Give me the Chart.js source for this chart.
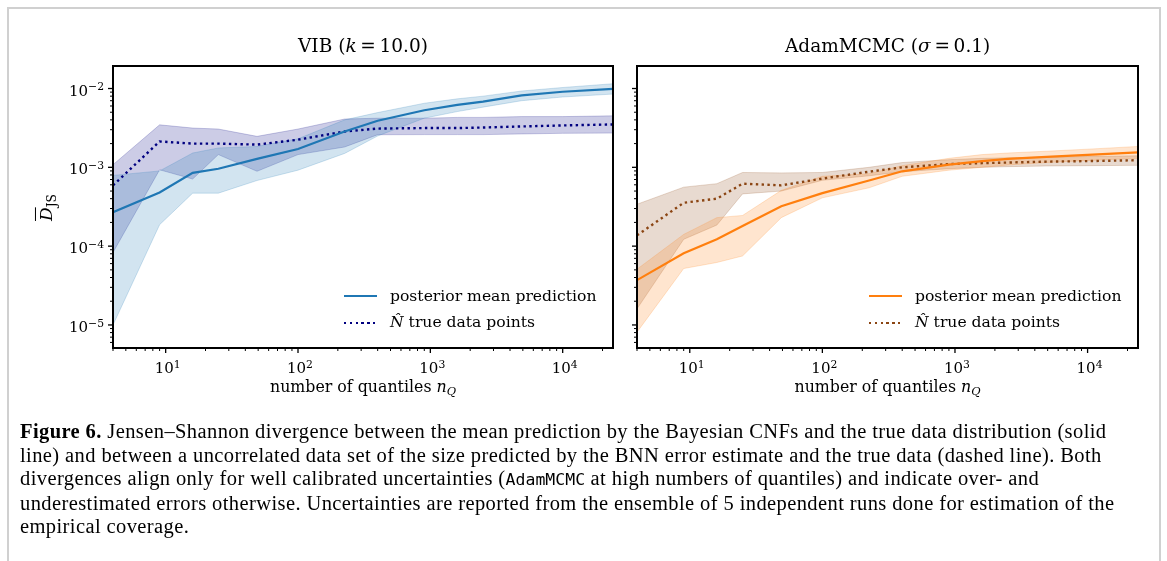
<!DOCTYPE html>
<html>
<head>
<meta charset="utf-8">
<script src="https://cdn.jsdelivr.net/npm/chart.js@4.4.1/dist/chart.umd.min.js"></script>
<style>
  html, body { margin:0; padding:0; background:#fff; }
  #page { position:relative; width:1167px; height:561px; overflow:hidden; background:#fff; }
  #frame { position:absolute; left:7px; top:7px; width:1154px; height:600px; border:2px solid #d0d0d0; box-sizing:border-box; }
  canvas { position:absolute; left:0; top:0; }
  .t { position:absolute; font-family:"DejaVu Serif", serif; color:#000; white-space:nowrap; line-height:1; }
  .sup { font-size:0.72em; position:relative; top:-0.5em; }
  .sub { font-size:0.72em; position:relative; top:0.3em; }
  .caption { position:absolute; left:20px; top:420px; font-family:"Liberation Serif","Times New Roman",serif; font-size:20.5px; letter-spacing:0.4px; line-height:23.5px; color:#000; white-space:nowrap; }
  .caption code { font-family:"DejaVu Sans Mono","Liberation Mono",monospace; font-size:16.5px; letter-spacing:0; }
  .legline { position:absolute; height:2px; }
</style>
</head>
<body>
<div id="page">
  <div id="frame"></div>
  <canvas id="c1" width="1167" height="561"></canvas>
  <canvas id="c2" width="1167" height="561"></canvas>
  <div class="caption">
    <div><b>Figure 6.</b> Jensen–Shannon divergence between the mean prediction by the Bayesian CNFs and the true data distribution (solid</div>
    <div>line) and between a uncorrelated data set of the size predicted by the BNN error estimate and the true data (dashed line). Both</div>
    <div>divergences align only for well calibrated uncertainties (<code>AdamMCMC</code> at high numbers of quantiles) and indicate over- and</div>
    <div>underestimated errors otherwise. Uncertainties are reported from the ensemble of 5 independent runs done for estimation of the</div>
    <div>empirical coverage.</div>
  </div>
</div>
<script>
// ---- data ----
const nQ = [4, 9, 16, 25, 49, 100, 225, 400, 900, 1600, 2500, 4900, 10000, 24000];

const vibMean   = [2.7e-4, 4.8e-4, 8.5e-4, 9.6e-4, 1.28e-3, 1.71e-3, 2.85e-3, 3.9e-3, 5.3e-3, 6.2e-3, 6.8e-3, 8.2e-3, 9.1e-3, 9.9e-3];
const vibMeanHi = [7.9e-4, 9.0e-4, 1.52e-3, 1.76e-3, 1.84e-3, 2.3e-3, 4.0e-3, 4.95e-3, 6.5e-3, 7.4e-3, 8.0e-3, 9.3e-3, 1.03e-2, 1.15e-2];
const vibMeanLo = [1.0e-5, 1.87e-4, 4.7e-4, 4.7e-4, 6.8e-4, 9.2e-4, 1.5e-3, 2.5e-3, 4.2e-3, 5.1e-3, 5.8e-3, 7.0e-3, 7.8e-3, 8.5e-3];

const vibTrue   = [5.9e-4, 2.13e-3, 2.0e-3, 2.0e-3, 1.94e-3, 2.24e-3, 2.85e-3, 3.1e-3, 3.15e-3, 3.15e-3, 3.2e-3, 3.3e-3, 3.4e-3, 3.5e-3];
const vibTrueHi = [1.08e-3, 3.46e-3, 3.15e-3, 3.06e-3, 2.47e-3, 3.06e-3, 4.1e-3, 4.2e-3, 4.2e-3, 4.3e-3, 4.3e-3, 4.4e-3, 4.4e-3, 4.5e-3];
const vibTrueLo = [8.3e-5, 9.3e-4, 7.1e-4, 1.45e-3, 8.9e-4, 1.45e-3, 1.81e-3, 2.59e-3, 2.6e-3, 2.6e-3, 2.6e-3, 2.65e-3, 2.7e-3, 2.72e-3];

const adamMean   = [3.7e-5, 8.1e-5, 1.22e-4, 1.8e-4, 3.2e-4, 4.7e-4, 6.8e-4, 8.9e-4, 1.08e-3, 1.2e-3, 1.28e-3, 1.36e-3, 1.44e-3, 1.55e-3];
const adamMeanHi = [5.1e-5, 1.41e-4, 2.3e-4, 2.45e-4, 5.1e-4, 7.7e-4, 8.3e-4, 1.05e-3, 1.3e-3, 1.45e-3, 1.52e-3, 1.6e-3, 1.7e-3, 1.84e-3];
const adamMeanLo = [8.1e-6, 5.2e-5, 6.2e-5, 7.5e-5, 2.3e-4, 4.1e-4, 5.5e-4, 7.7e-4, 9.2e-4, 1.0e-3, 1.07e-3, 1.15e-3, 1.22e-3, 1.3e-3];

const adamTrue   = [1.37e-4, 3.55e-4, 4.0e-4, 6.2e-4, 5.9e-4, 7.2e-4, 8.8e-4, 1.0e-3, 1.1e-3, 1.13e-3, 1.15e-3, 1.18e-3, 1.2e-3, 1.23e-3];
const adamTrueHi = [3.4e-4, 5.6e-4, 6.2e-4, 8.6e-4, 8.5e-4, 8.6e-4, 1.0e-3, 1.15e-3, 1.25e-3, 1.3e-3, 1.32e-3, 1.35e-3, 1.37e-3, 1.4e-3];
const adamTrueLo = [1.6e-5, 1.22e-4, 1.85e-4, 4.6e-4, 5.0e-4, 6.85e-4, 7.8e-4, 8.8e-4, 9.6e-4, 1.0e-3, 1.02e-3, 1.04e-3, 1.05e-3, 1.06e-3];

const xTickVals = [10, 100, 1000, 10000];
const xTickExp  = ['1', '2', '3', '4'];
const yTickVals = [1e-5, 1e-4, 1e-3, 1e-2];
const yTickExp  = ['\u22125', '\u22124', '\u22123', '\u22122'];
const xMin = 4, xMax = 24000, yMin = 5.1e-6, yMax = 1.93e-2;

const titles = ['VIB (<i>k</i>\u2009=\u200910.0)', 'AdamMCMC (<i>\u03c3</i>\u2009=\u20090.1)'];
const legendLabels = ['posterior mean prediction', '<i>N\u0302</i> true data points'];

// ---- helpers ----
const pts = (xs, ys) => xs.map((x, i) => ({x: x, y: ys[i]}));
const page = document.getElementById('page');
function addText(html, left, top, style) {
  const d = document.createElement('div');
  d.className = 't';
  d.innerHTML = html;
  d.style.left = left + 'px';
  d.style.top = top + 'px';
  if (style) Object.assign(d.style, style);
  page.appendChild(d);
  return d;
}

const axesPlugin = {
  id: 'axesPlugin',
  afterDraw(chart) {
    const ctx = chart.ctx, a = chart.chartArea;
    const xs = chart.scales.x, ys = chart.scales.y;
    ctx.save();
    ctx.strokeStyle = '#000';
    function ticksFor(scale, min, max, isX) {
      const d0 = Math.floor(Math.log10(min)), d1 = Math.ceil(Math.log10(max));
      for (let d = d0; d <= d1; d++) {
        for (let k = 1; k <= 9; k++) {
          const v = k * Math.pow(10, d);
          if (v < min * 0.999 || v > max * 1.001) continue;
          const p = scale.getPixelForValue(v);
          const major = (k === 1);
          const len = major ? 5 : 3;
          ctx.lineWidth = major ? 1.3 : 1;
          ctx.beginPath();
          if (isX) { ctx.moveTo(p, a.bottom); ctx.lineTo(p, a.bottom + len); }
          else { ctx.moveTo(a.left, p); ctx.lineTo(a.left - len, p); }
          ctx.stroke();
        }
      }
    }
    ticksFor(xs, xMin, xMax, true);
    ticksFor(ys, yMin, yMax, false);
    ctx.lineWidth = 2;
    ctx.strokeRect(a.left, a.top, a.right - a.left, a.bottom - a.top);
    ctx.restore();
  }
};

function makeChart(id, pad, mean, meanHi, meanLo, tru, truHi, truLo, cMean, cMeanBand, cTrue, cTrueBand) {
  const band = (data, fill, col) => ({data: data, fill: fill, backgroundColor: col, borderColor: col, borderWidth: 1, pointRadius: 0, order: 2, tension: 0});
  return new Chart(document.getElementById(id), {
    type: 'line',
    data: {
      datasets: [
        band(pts(nQ, meanHi), '+1', cMeanBand),
        band(pts(nQ, meanLo), false, cMeanBand),
        band(pts(nQ, truHi), '+1', cTrueBand),
        band(pts(nQ, truLo), false, cTrueBand),
        {data: pts(nQ, mean), borderColor: cMean, borderWidth: 2.2, pointRadius: 0, fill: false, order: 0, tension: 0},
        {data: pts(nQ, tru), borderColor: cTrue, borderWidth: 2.4, borderDash: [2.4, 3.4], borderCapStyle: 'butt', pointRadius: 0, fill: false, order: 1, tension: 0}
      ]
    },
    options: {
      responsive: false, animation: false, devicePixelRatio: 1,
      layout: {padding: pad},
      plugins: {legend: {display: false}, tooltip: {enabled: false}, title: {display: false}},
      events: [],
      scales: {
        x: {type: 'logarithmic', min: xMin, max: xMax, display: false},
        y: {type: 'logarithmic', min: yMin, max: yMax, display: false}
      }
    },
    plugins: [axesPlugin]
  });
}

const ch1 = makeChart('c1', {left: 113, top: 66, right: 1167 - 613, bottom: 561 - 348},
  vibMean, vibMeanHi, vibMeanLo, vibTrue, vibTrueHi, vibTrueLo,
  '#1f77b4', 'rgba(31,119,180,0.2)', '#000080', 'rgba(0,0,128,0.2)');
const ch2 = makeChart('c2', {left: 637, top: 66, right: 1167 - 1138, bottom: 561 - 348},
  adamMean, adamMeanHi, adamMeanLo, adamTrue, adamTrueHi, adamTrueLo,
  '#ff7f0e', 'rgba(255,127,14,0.2)', '#8b4513', 'rgba(139,69,19,0.2)');

function decorate(chart, idx, showY, cMean, cTrue) {
  const a = chart.chartArea, xs = chart.scales.x, ys = chart.scales.y;
  const cx = (a.left + a.right) / 2;
  const t = addText(titles[idx], 0, 37, {fontSize: '18.5px'});
  t.style.left = (cx - t.offsetWidth / 2) + 'px';
  xTickVals.forEach((v, i) => {
    const d = addText('10<span class="sup">' + xTickExp[i] + '</span>', 0, a.bottom + 13, {fontSize: '15px'});
    d.style.left = (xs.getPixelForValue(v) - d.offsetWidth / 2 + 2) + 'px';
  });
  if (showY) {
    yTickVals.forEach((v, i) => {
      const d = addText('10<span class="sup">' + yTickExp[i] + '</span>', 0, 0, {fontSize: '15px'});
      d.style.left = (a.left - 9 - d.offsetWidth) + 'px';
      d.style.top = (ys.getPixelForValue(v) - 5) + 'px';
    });
    const yl = addText('<span style="text-decoration:overline"><i>D</i></span><span class="sub">JS</span>', 0, 0, {fontSize: '17px'});
    yl.style.transform = 'rotate(-90deg)';
    yl.style.left = (46 - yl.offsetWidth / 2) + 'px';
    yl.style.top = ((a.top + a.bottom) / 2 - yl.offsetHeight / 2) + 'px';
  }
  const xl = addText('number of quantiles <i>n</i><span class="sub"><i>Q</i></span>', 0, a.bottom + 31, {fontSize: '15.8px'});
  xl.style.left = (cx - xl.offsetWidth / 2) + 'px';
  const lx = a.right - 269;
  const rows = [a.bottom - 52, a.bottom - 25];
  const l1 = document.createElement('div');
  l1.className = 'legline';
  Object.assign(l1.style, {left: lx + 'px', top: (rows[0] - 1) + 'px', width: '33px', background: cMean});
  page.appendChild(l1);
  const l2 = document.createElement('div');
  l2.className = 'legline';
  Object.assign(l2.style, {left: lx + 'px', top: (rows[1] - 1) + 'px', width: '33px', height: '2.4px',
    background: 'repeating-linear-gradient(to right, ' + cTrue + ' 0 2.4px, transparent 2.4px 5.8px)'});
  page.appendChild(l2);
  addText(legendLabels[0], lx + 46, rows[0] - 7, {fontSize: '15.6px'});
  addText(legendLabels[1], lx + 46, rows[1] - 8, {fontSize: '15.6px'});
}
decorate(ch1, 0, true, '#1f77b4', '#000080');
decorate(ch2, 1, false, '#ff7f0e', '#8b4513');
</script>
</body>
</html>
